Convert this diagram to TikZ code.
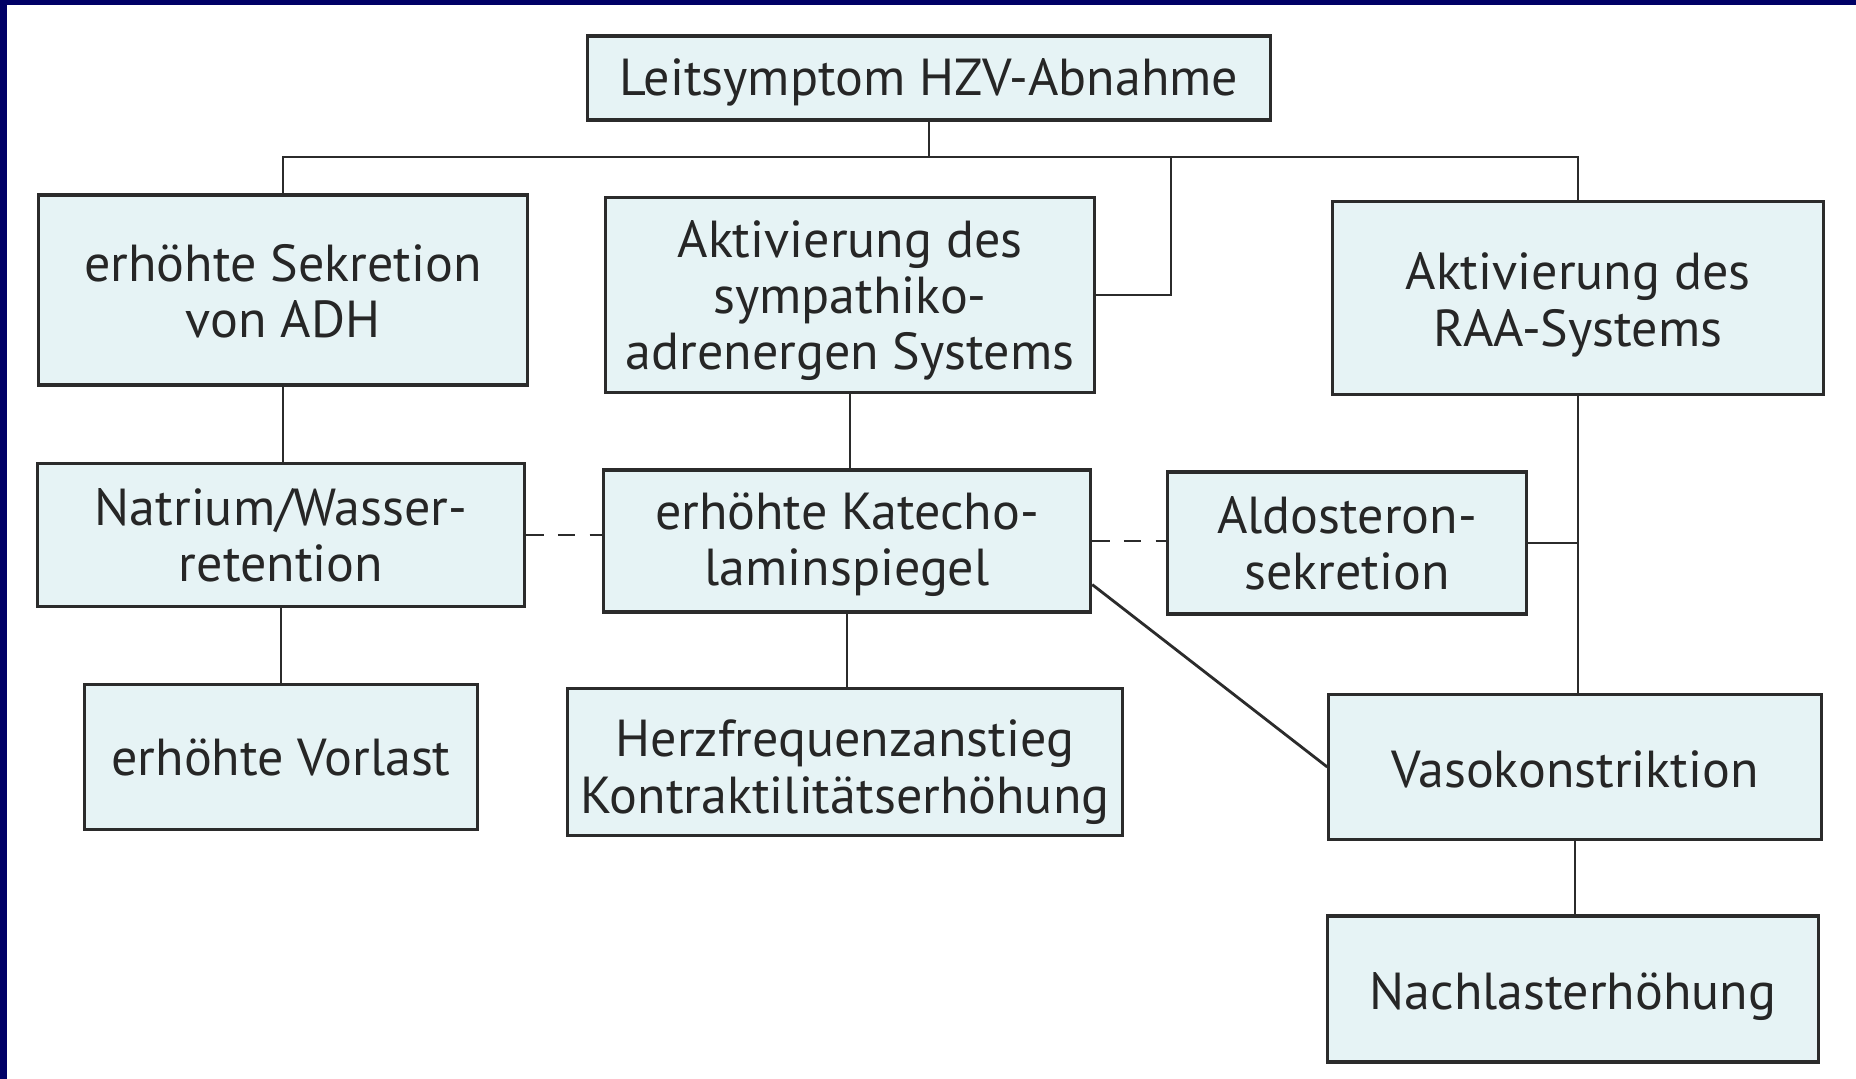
\documentclass[tikz,border=0pt]{standalone}
\usepackage{fontspec}
\setmainfont{PT Sans}
\usetikzlibrary{positioning, calc}
\definecolor{boxfill}{HTML}{E6F3F5}
\definecolor{boxline}{HTML}{2B2B2B}
\definecolor{inktext}{HTML}{262626}
\definecolor{navyframe}{HTML}{000066}
% taller first line = text sits lower in its box
\newcommand{\lowerby}[1]{\rule{0pt}{\dimexpr\fontcharht\font`\h+#1\relax}}
\tikzset{
  fbox/.style={rectangle, draw=boxline, fill=boxfill, line width=0.9pt,
               minimum width=#1, align=center, text=inktext,
               font=\fontsize{14.8}{16}\selectfont},
  fbox/.default=4.88cm,
  link/.style={draw=boxline, line width=0.8pt},
  dlink/.style={draw=boxline, line width=0.8pt, dash pattern=on 5pt off 4pt},
}

\begin{document}
\begin{tikzpicture}[x=0.01cm, y=-0.01cm]
  \useasboundingbox (0,0) rectangle (1856,1079);
  \fill[white] (0,0) rectangle (1856,1079);
  \fill[navyframe] (0,0) rectangle (1856,5);
  \fill[navyframe] (0,0) rectangle (7,1079);

  % top
  \node[fbox=6.82cm, minimum height=0.84cm] (hzv) at (929,78) {\lowerby{2.6pt}Leitsymptom HZV-Abnahme};

  % left column
  \node[fbox=4.88cm, minimum height=1.90cm] (adh) at (283,290) {\lowerby{1pt}erhöhte Sekretion\\von ADH};
  \node[fbox=4.87cm, minimum height=1.43cm] (nat) at (281,535) {Natrium/Wasser-\\retention};
  \node[fbox=3.92cm, minimum height=1.45cm] (vor) at (281,757) {erhöhte Vorlast};

  % middle column
  \node[fbox=4.89cm, minimum height=1.92cm] (sym) at (850,295) {\lowerby{3.4pt}Aktivierung des\\sympathiko-\\adrenergen Systems};
  \node[fbox=4.87cm, minimum height=1.42cm] (kat) at (847,541) {\lowerby{2pt}erhöhte Katecho-\\laminspiegel};
  \node[fbox=5.54cm, minimum height=1.47cm] (hfq) at (845,762) {\lowerby{5.8pt}Herzfrequenzanstieg\\Kontraktilitätserhöhung};

  % right column
  \node[fbox=4.91cm, minimum height=1.93cm] (raa) at (1578,298) {\lowerby{4pt}Aktivierung des\\RAA-Systems};
  \node[fbox=3.59cm, minimum height=1.42cm] (ald) at (1347,543) {Aldosteron-\\sekretion};
  \node[fbox=4.92cm, minimum height=1.45cm] (vas) at (1575,767) {\lowerby{1.4pt}Vasokonstriktion};
  \node[fbox=4.91cm, minimum height=1.46cm] (nach) at (1573,989) {\lowerby{4.6pt}Nachlasterhöhung};

  \coordinate (bus) at (929,157);
  \coordinate (knee) at (1171,157);

  % connectors
  \draw[link] (hzv.south) -- (bus);
  \draw[link] (adh.north) |- (bus) -| (raa.north);
  \draw[link] (sym.east) -| (knee);
  \draw[link] (adh.south) -- (adh.south |- nat.north);
  \draw[link] (nat.south) -- (nat.south |- vor.north);
  \draw[link] (sym.south) -- (sym.south |- kat.north);
  \draw[link] (kat.south) -- (kat.south |- hfq.north);
  \draw[link] (raa.south) -- (raa.south |- vas.north);
  \draw[link] (ald.east) -- (ald.east -| raa.south);
  \draw[link] (vas.south) -- (vas.south |- nach.north);
  \draw[link] ($(kat.south east)!0.2!(kat.north east)$) -- (vas.west);
  \draw[dlink] (nat.east) -- (nat.east -| kat.west);
  \draw[dlink] (kat.east) -- (kat.east -| ald.west);
\end{tikzpicture}
\end{document}
